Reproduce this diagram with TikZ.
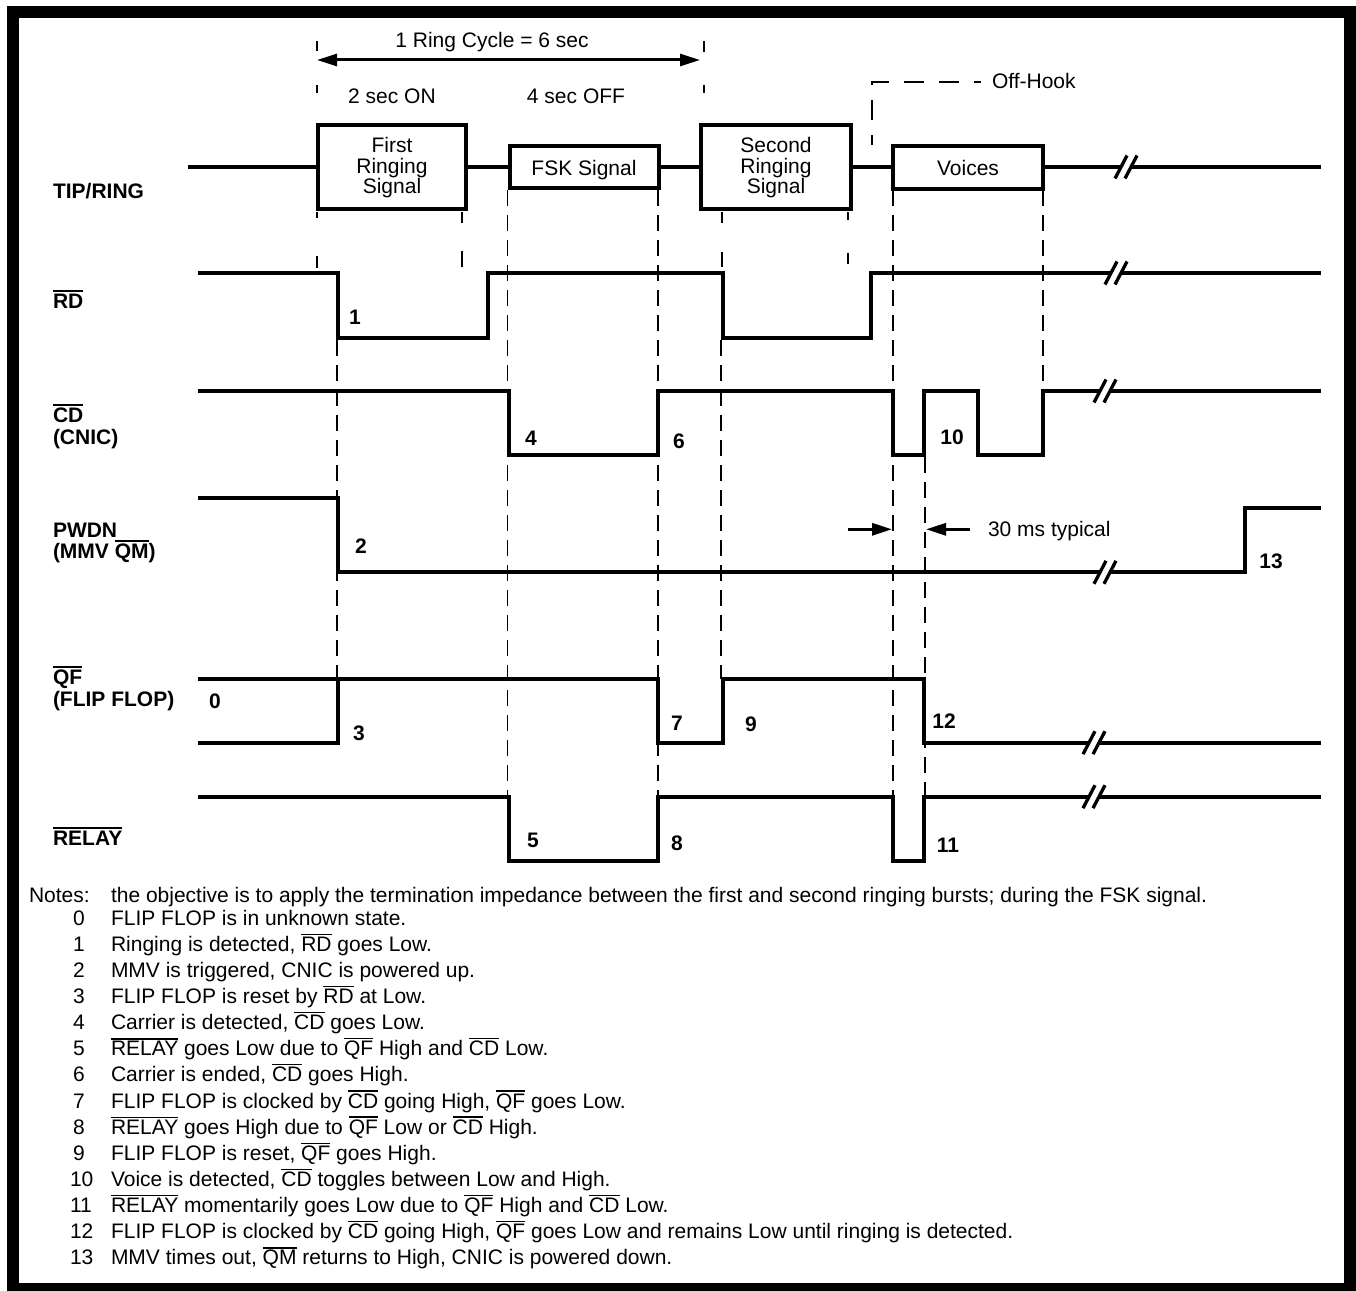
\documentclass[tikz,border=0pt]{standalone}
\usepackage{fontspec}
\setmainfont{Liberation Sans}
\usetikzlibrary{arrows.meta}
\newcommand{\ovl}[1]{\vbox{\hrule height 1.4pt\kern 1.8pt\hbox{#1}}}
\tikzset{brk/.pic={\fill[white] (-4,-3) rectangle (4,3);
  \draw[line width=3.3pt] (-11,11.5)--(1,-11.5) (-1,11.5)--(11,-11.5);}}
\begin{document}
\begin{tikzpicture}[x=1pt,y=-1pt,
  every node/.style={inner sep=0pt,outer sep=0pt,font=\fontsize{21}{21}\selectfont},
  lbl/.style={anchor=base west,font=\fontsize{21}{21}\selectfont\bfseries},
  num/.style={anchor=base,font=\fontsize{21}{21}\selectfont\bfseries},
  txt/.style={anchor=base},
  note/.style={anchor=base west},
  sig/.style={line width=4pt,line join=miter},
  sigbox/.style={draw,line width=4pt,fill=white},
  guide/.style={line width=1.5pt,dash pattern=on 16pt off 9pt},
  tick/.style={line width=1.5pt},
  dimarrow/.style={line width=3pt,-{Triangle[length=20pt,width=12pt]}},
]
\useasboundingbox (0,0) rectangle (1356,1290);
\fill[white] (0,0) rectangle (1356,1290);
\draw[line width=12pt] (13,12) rectangle (1350,1289);

% ---- ring cycle header ----
\node[txt] (cyc) at (492,48) {1 Ring Cycle = 6 sec};
\coordinate (ca) at (317,60);
\coordinate (cb) at (700,60);
\draw[line width=3pt,{Triangle[length=20pt,width=12pt]}-{Triangle[length=20pt,width=12pt]}] (ca) -- (cb);
\node[txt] (on) at (392,103) {2 sec ON};
\node[txt] (off) at (576,103) {4 sec OFF};
\draw[tick] (317,41)--(317,51) (317,85)--(317,93) (317,212)--(317,218) (317,256)--(317,268);
\draw[tick] (704,41)--(704,52) (704,85)--(704,93);
\draw[tick] (462,212)--(462,223) (462,251)--(462,267);
\draw[tick] (722,212)--(722,223) (722,252)--(722,267);
\draw[tick] (848,212)--(848,220) (848,253)--(848,264);

% ---- off-hook ----
\draw[line width=1.5pt,dash pattern=on 20pt off 15pt,dash phase=10pt] (872,145) -- (872,82) -- (981,82);
\node[note] (offhook) at (992,88) {Off-Hook};

% ---- dashed guides ----
\draw[guide] (337,340) -- (337,679);
\draw[guide] (507.5,190) -- (507.5,797);
\draw[guide] (658,190) -- (658,797);
\draw[guide] (721,340) -- (721,679);
\draw[guide] (893,190) -- (893,797);
\draw[guide] (925,457) -- (925,797);
\draw[guide] (1043,190) -- (1043,391);

% ---- TIP/RING ----
\coordinate (trs) at (188,167);
\coordinate (tre) at (1321,167);
\node[sigbox,minimum width=148pt,minimum height=84.5pt] (b1) at (392,167) {};
\node[sigbox,minimum width=149pt,minimum height=42.5pt] (fsk) at (584,167) {};
\node[sigbox,minimum width=150pt,minimum height=84.5pt] (b2) at (776,167) {};
\node[sigbox,minimum width=150pt,minimum height=43pt] (voc) at (968,167) {};
\draw[sig] (trs) -- (b1.west);
\draw[sig] (b1.east) -- (fsk.west);
\draw[sig] (fsk.east) -- (b2.west);
\draw[sig] (b2.east) -- (voc.west);
\draw[sig] (voc.east) -- (tre);
\node[txt] (t1a) at (392,152) {First};
\node[txt] (t1b) at (392,173) {Ringing};
\node[txt] (t1c) at (392,193) {Signal};
\node[txt] (tf) at (584,175) {FSK Signal};
\node[txt] (t2a) at (776,152) {Second};
\node[txt] (t2b) at (776,173) {Ringing};
\node[txt] (t2c) at (776,193) {Signal};
\node[txt] (tv) at (968,175) {Voices};
\pic at (1126,167) {brk};

% ---- RD ----
\draw[sig] (198,273) -- (338,273) -- (338,337.5) -- (487.7,337.5) -- (487.7,273) -- (722.5,273) -- (722.5,337.5) -- (871,337.5) -- (871,273) -- (1321,273);
\pic at (1116,273) {brk};

% ---- CD ----
\draw[sig] (198,391) -- (509,391) -- (509,455) -- (658,455) -- (658,391) -- (893,391) -- (893,455) -- (924,455) -- (924,391) -- (978,391) -- (978,455) -- (1043,455) -- (1043,391) -- (1321,391);
\pic at (1105,391) {brk};

% ---- PWDN ----
\draw[sig] (198,497.7) -- (338,497.7) -- (338,572.3) -- (1245,572.3) -- (1245,508.3) -- (1321,508.3);
\pic at (1105,572.3) {brk};
\draw[dimarrow] (848,529.3) -- (892,529.3);
\draw[dimarrow] (970,529.3) -- (926,529.3);
\node[note] (ms) at (988,536) {30 ms typical};

% ---- QF ----
\draw[sig] (198,679) -- (658,679) -- (658,742.7) -- (722.5,742.7) -- (722.5,679) -- (924,679) -- (924,742.7) -- (1321,742.7);
\draw[sig] (198,742.7) -- (338,742.7) -- (338,679);
\pic at (1094,742.7) {brk};

% ---- RELAY ----
\draw[sig] (198,796.7) -- (509,796.7) -- (509,860.8) -- (658,860.8) -- (658,796.7) -- (893,796.7) -- (893,860.8) -- (924,860.8) -- (924,796.7) -- (1321,796.7);
\pic at (1094,796.7) {brk};

% ---- left labels ----
\node[lbl] (ltr) at (53,198) {TIP/RING};
\node[lbl] (lrd) at (53,308) {\ovl{RD}};
\node[lbl] (lcd) at (53,422) {\ovl{CD}};
\node[lbl] (lcn) at (53,444) {(CNIC)};
\node[lbl] (lpw) at (53,537) {PWDN};
\node[lbl] (lmm) at (53,558) {(MMV \ovl{QM})};
\node[lbl] (lqf) at (53,684) {\ovl{QF}};
\node[lbl] (lff) at (53,706) {(FLIP FLOP)};
\node[lbl] (lre) at (53,845) {\ovl{RELAY}};

% ---- event numbers ----
\node[num] (e0) at (215,708) {0};
\node[num] (e1) at (355,324) {1};
\node[num] (e2) at (361,553) {2};
\node[num] (e3) at (359,740) {3};
\node[num] (e4) at (531,445) {4};
\node[num] (e5) at (533,847) {5};
\node[num] (e6) at (679,448) {6};
\node[num] (e7) at (677,730) {7};
\node[num] (e8) at (677,850) {8};
\node[num] (e9) at (751,731) {9};
\node[num] (e10) at (952,444) {10};
\node[num] (e11) at (948,852) {11};
\node[num] (e12) at (944,728) {12};
\node[num] (e13) at (1271,568) {13};

% ---- notes ----
\node[note] (nh) at (29,902) {Notes:};
\node[note] (nt) at (111,902) {the objective is to apply the termination impedance between the first and second ringing bursts; during the FSK signal.};
\node[note] (k0) at (73,925) {0};
\node[note] (m0) at (111,925) {FLIP FLOP is in unknown state.};
\node[note] (k1) at (73,951.15) {1};
\node[note] (m1) at (111,951.15) {Ringing is detected, \ovl{RD} goes Low.};
\node[note] (k2) at (73,977.3) {2};
\node[note] (m2) at (111,977.3) {MMV is triggered, CNIC is powered up.};
\node[note] (k3) at (73,1003.45) {3};
\node[note] (m3) at (111,1003.45) {FLIP FLOP is reset by \ovl{RD} at Low.};
\node[note] (k4) at (73,1029.6) {4};
\node[note] (m4) at (111,1029.6) {Carrier is detected, \ovl{CD} goes Low.};
\node[note] (k5) at (73,1055.75) {5};
\node[note] (m5) at (111,1055.75) {\ovl{RELAY} goes Low due to \ovl{QF} High and \ovl{CD} Low.};
\node[note] (k6) at (73,1081.9) {6};
\node[note] (m6) at (111,1081.9) {Carrier is ended, \ovl{CD} goes High.};
\node[note] (k7) at (73,1108.05) {7};
\node[note] (m7) at (111,1108.05) {FLIP FLOP is clocked by \ovl{CD} going High, \ovl{QF} goes Low.};
\node[note] (k8) at (73,1134.2) {8};
\node[note] (m8) at (111,1134.2) {\ovl{RELAY} goes High due to \ovl{QF} Low or \ovl{CD} High.};
\node[note] (k9) at (73,1160.35) {9};
\node[note] (m9) at (111,1160.35) {FLIP FLOP is reset, \ovl{QF} goes High.};
\node[note] (k10) at (70,1186.5) {10};
\node[note] (m10) at (111,1186.5) {Voice is detected, \ovl{CD} toggles between Low and High.};
\node[note] (k11) at (70,1212.65) {11};
\node[note] (m11) at (111,1212.65) {\ovl{RELAY} momentarily goes Low due to \ovl{QF} High and \ovl{CD} Low.};
\node[note] (k12) at (70,1238.8) {12};
\node[note] (m12) at (111,1238.8) {FLIP FLOP is clocked by \ovl{CD} going High, \ovl{QF} goes Low and remains Low until ringing is detected.};
\node[note] (k13) at (70,1264.95) {13};
\node[note] (m13) at (111,1264.95) {MMV times out, \ovl{QM} returns to High, CNIC is powered down.};
\end{tikzpicture}
\end{document}
